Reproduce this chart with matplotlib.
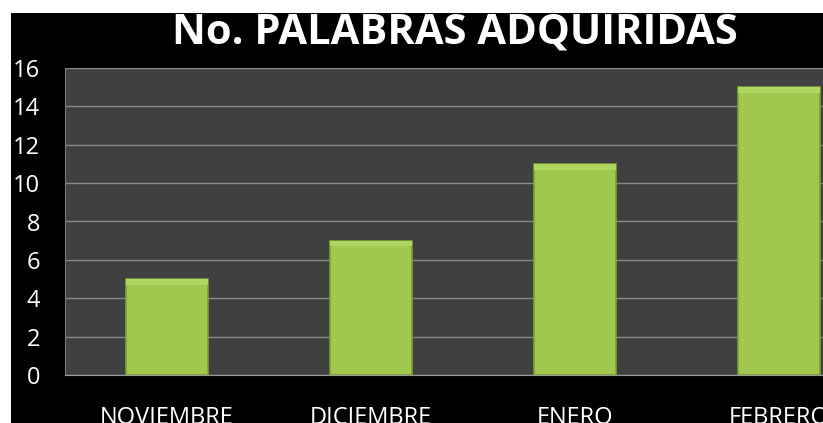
import matplotlib.pyplot as plt
import matplotlib as mpl
from matplotlib.patches import Rectangle

# ---------------------------------------------------------------------------
# Data
# ---------------------------------------------------------------------------
months = ["NOVIEMBRE", "DICIEMBRE", "ENERO", "FEBRERO"]
words = [5, 7, 11, 15]
yticks = [0, 2, 4, 6, 8, 10, 12, 14, 16]
title = "No. PALABRAS ADQUIRIDAS"

mpl.rcParams["font.family"] = ["Open Sans", "DejaVu Sans"]

W, H = 823, 423
fig = plt.figure(figsize=(W / 100, H / 100), dpi=100, facecolor="black")

# white margin at top and left (drawn on top so the title gets clipped)
fig.patches.append(Rectangle((0, 1 - 13 / H), 1, 1, transform=fig.transFigure,
                             facecolor="white", edgecolor="none", zorder=10))
fig.patches.append(Rectangle((0, 0), 11 / W, 1, transform=fig.transFigure,
                             facecolor="white", edgecolor="none", zorder=10))

ax = fig.add_axes([65 / W, 48 / H, 816 / W, 307 / H])
ax.set_facecolor("#404040")

x = range(len(months))
ax.bar(x, words, width=0.4, color="#9fc84c", edgecolor="#7c9e36", linewidth=1.2, zorder=3)
# lighter bevel at top of each bar
ax.bar(x, [0.3] * len(words), bottom=[v - 0.3 for v in words], width=0.4,
       color="#b0d662", edgecolor="none", zorder=4)

ax.set_xlim(-0.5, 3.5)
ax.set_ylim(0, 16)
ax.set_yticks(yticks)
ax.set_xticks(list(x))
ax.set_xticklabels(months)
ax.grid(axis="y", color="#8a8a8a", lw=1.0, zorder=1)
ax.tick_params(axis="y", length=0, pad=18, labelsize=17, colors="white")
ax.tick_params(axis="x", length=0, pad=22, labelsize=17, colors="white")
for s in ["top", "right"]:
    ax.spines[s].set_visible(False)
ax.spines["left"].set_color("#7a7a7a")
ax.spines["bottom"].set_color("#9a9a9a")

fig.text(455 / W, 1 - 44 / H, title, color="white", fontsize=30, fontweight="bold",
         ha="center", va="baseline")

fig.savefig("out.png", dpi=100, facecolor=fig.get_facecolor())
